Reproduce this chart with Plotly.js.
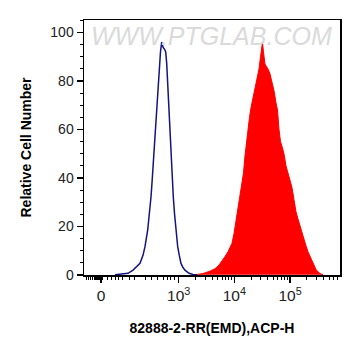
<!DOCTYPE html>
<html>
<head>
<meta charset="utf-8">
<script src="https://cdn.plot.ly/plotly-3.0.1.min.js"></script>
<style>html,body{margin:0;padding:0;background:#fff;}#chart{width:361px;height:356px;}</style>
</head>
<body>
<div id="chart"></div>
<script>
// X positions are in display (biexponential) axis units: 3 = 10^3, 4 = 10^4, 5 = 10^5
const isotypeX = [1.856, 2.000, 2.090, 2.180, 2.233, 2.305, 2.359, 2.395, 2.443, 2.476, 2.503, 2.524, 2.544, 2.560, 2.575, 2.596, 2.616, 2.634, 2.652, 2.673, 2.695, 2.718, 2.749, 2.767, 2.785, 2.799, 2.813, 2.829, 2.844, 2.858, 2.874, 2.889, 2.903, 2.926, 2.952, 2.982, 3.011, 3.041, 3.077, 3.113, 3.185, 3.257, 3.329];
const isotypeY = [0, 0.2, 0.6, 1.9, 3, 4.7, 8, 11.6, 18.4, 25, 32.2, 39, 46, 53, 59.7, 66.5, 73.4, 80, 87.2, 92, 96.1, 94, 93, 92, 87.2, 80, 73.4, 66.5, 59.7, 53, 46, 39, 32.2, 25, 18.4, 11.6, 8, 4.7, 3, 1.9, 0.6, 0.1, 0];

const sampleX = [3.293, 3.436, 3.562, 3.652, 3.724, 3.777, 3.831, 3.885, 3.921, 3.957, 3.993, 4.029, 4.065, 4.101, 4.136, 4.163, 4.190, 4.217, 4.244, 4.271, 4.298, 4.334, 4.361, 4.388, 4.415, 4.442, 4.469, 4.496, 4.504, 4.522, 4.549, 4.576, 4.603, 4.639, 4.675, 4.711, 4.747, 4.774, 4.801, 4.828, 4.855, 4.890, 4.926, 4.962, 4.998, 5.034, 5.070, 5.106, 5.142, 5.178, 5.214, 5.250, 5.285, 5.321, 5.357, 5.393, 5.429, 5.465, 5.501, 5.537, 5.591];
const sampleY = [0, 0.5, 1.5, 2.5, 4, 5.5, 7.5, 9.5, 11, 13, 17, 22, 28, 33, 38, 42, 49, 55, 61, 65, 69, 73, 76, 78, 81, 85, 90, 95, 96, 92, 87, 86, 85, 83, 80, 76, 71, 68, 60, 55, 53, 50, 45, 42, 40, 36, 31, 26, 23, 20, 17, 14, 12, 9.5, 7.5, 5.5, 3.8, 2.2, 1.2, 0.5, 0];

const xTickVals = [1.605, 3, 4, 5];
const xTickText = ['0', '10<sup>3</sup>', '10<sup>4</sup>', '10<sup>5</sup>'];
const xMinorVals = [1.336, 1.381, 1.425, 1.461, 1.488, 1.515, 1.533, 1.551, 1.569, 1.587, 1.641, 1.713, 1.785, 1.857, 1.928,
  2.0, 2.108, 2.215, 2.408, 2.515, 2.623, 2.724, 2.795, 2.856, 2.921,
  3.301, 3.477, 3.602, 3.699, 3.778, 3.845, 3.903, 3.954,
  4.301, 4.477, 4.602, 4.699, 4.778, 4.845, 4.903, 4.954,
  5.301, 5.477, 5.602, 5.699, 5.778, 5.845];

const xTitle = '82888-2-RR(EMD),ACP-H';
const yTitle = 'Relative Cell Number';
const watermark = 'WWW.PTGLAB.COM';

const traces = [
  {x: sampleX, y: sampleY, type: 'scatter', mode: 'lines', fill: 'tozeroy',
   fillcolor: '#ff0000', line: {color: '#ff0000', width: 1}, hoverinfo: 'skip'},
  {x: isotypeX, y: isotypeY, type: 'scatter', mode: 'lines',
   line: {color: '#141480', width: 1.5}, hoverinfo: 'skip'}
];

const yTickFont = {family: 'Liberation Sans, Arial, sans-serif', size: 14, color: '#222'};
const xTickFont = {family: 'Liberation Sans, Arial, sans-serif', size: 15.5, color: '#222'};
const titleFont = {family: 'Liberation Sans, Arial, sans-serif', size: 14, color: '#000', weight: 'bold'};

const layout = {
  width: 361, height: 356,
  margin: {l: 84, r: 21, t: 20, b: 81, pad: 0},
  paper_bgcolor: '#fff', plot_bgcolor: '#fff',
  showlegend: false,
  xaxis: {
    range: [1.300, 5.896], showgrid: false, zeroline: false,
    showline: true, linecolor: '#000', linewidth: 1.5, mirror: true,
    ticks: 'outside', ticklen: 6, tickwidth: 1.5, tickcolor: '#000',
    tickmode: 'array', tickvals: xTickVals, ticktext: xTickText,
    tickfont: xTickFont,
    minor: {tickmode: 'array', tickvals: xMinorVals, ticks: 'outside', ticklen: 3.5, tickwidth: 1, tickcolor: '#000', showgrid: false},
    title: {text: xTitle, font: titleFont, standoff: 20}
  },
  yaxis: {
    range: [-0.1, 105.2], showgrid: false, zeroline: false,
    showline: true, linecolor: '#000', linewidth: 1.5, mirror: true,
    ticks: 'outside', ticklen: 6, tickwidth: 1.5, tickcolor: '#000',
    tickmode: 'array', tickvals: [0, 20, 40, 60, 80, 100],
    tickfont: yTickFont,
    minor: {dtick: 5, ticks: 'outside', ticklen: 3, tickwidth: 1, tickcolor: '#000', showgrid: false},
    title: {text: yTitle, font: titleFont, standoff: 15}
  },
  annotations: [
    {text: watermark, xref: 'paper', yref: 'paper', x: 0.497, y: 1.0, yanchor: 'top', xanchor: 'center',
     showarrow: false, font: {family: 'Liberation Sans, Arial, sans-serif', size: 25, color: '#dadada', style: 'italic'}}
  ]
};

Plotly.newPlot('chart', traces, layout, {staticPlot: true, displayModeBar: false});
</script>
</body>
</html>
